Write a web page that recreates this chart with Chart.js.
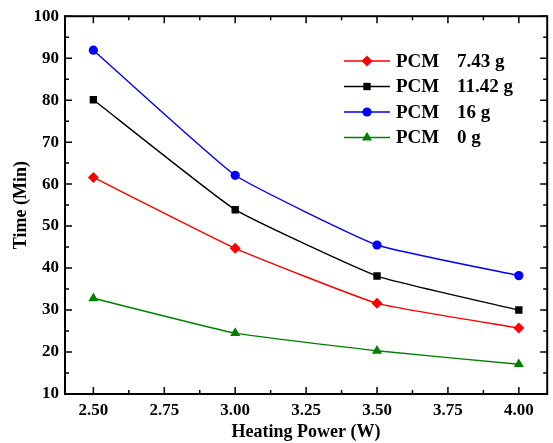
<!DOCTYPE html>
<html>
<head>
<meta charset="utf-8">
<script src="https://cdn.jsdelivr.net/npm/chart.js@4/dist/chart.umd.min.js"></script>
<style>
  html, body { margin: 0; padding: 0; background: #ffffff; }
  #wrap { width: 553px; height: 443px; }
</style>
</head>
<body>
<div id="wrap"><canvas id="c" width="553" height="443"></canvas></div>
<script>
// Heating power (W) on the x axis
const powers = [2.5, 3.0, 3.5, 4.0];
// Time (min) for each PCM mass
const pcm743 = [61.6, 44.7, 31.6, 25.7];
const pcm1142 = [80.1, 53.9, 38.1, 30.0];
const pcm16 = [91.9, 62.1, 45.5, 38.2];
const pcm0 = [32.8, 24.5, 20.3, 17.1];

const seriesNames = ['PCM', 'PCM', 'PCM', 'PCM'];
const seriesMass = ['7.43 g', '11.42 g', '16 g', '0 g'];

const xTickValues = [2.5, 2.75, 3.0, 3.25, 3.5, 3.75, 4.0];
const yTickValues = [10, 20, 30, 40, 50, 60, 70, 80, 90, 100];

const FONT = '"Liberation Serif", "Times New Roman", serif';

function pts(ys) { return ys.map((y, i) => ({ x: powers[i], y: y })); }

const styles = [
  { color: '#ff0000', pointStyle: 'rectRot', radius: 5.5 },
  { color: '#000000', pointStyle: 'rect', radius: 5.2 },
  { color: '#0000ff', pointStyle: 'circle', radius: 4.6 },
  { color: '#008000', pointStyle: 'triangle', radius: 5.8 }
];
const values = [pcm743, pcm1142, pcm16, pcm0];

const datasets = values.map((v, i) => ({
  label: seriesNames[i] + ' ' + seriesMass[i],
  data: pts(v),
  borderColor: styles[i].color,
  backgroundColor: styles[i].color,
  borderWidth: 1.4,
  pointStyle: styles[i].pointStyle,
  pointRadius: styles[i].radius,
  pointBorderWidth: 0,
  tension: 0.12
}));

// Frame with inward major/minor ticks on all four sides
const framePlugin = {
  id: 'frame',
  afterDatasetsDraw(chart) {
    const { ctx, chartArea: a, scales } = chart;
    const xs = scales.x, ys = scales.y;
    ctx.save();
    ctx.strokeStyle = '#000';
    ctx.lineWidth = 1.5;
    ctx.beginPath();
    const major = 7, minor = 4;
    xTickValues.forEach((v, i) => {
      const px = xs.getPixelForValue(v);
      ctx.moveTo(px, a.bottom); ctx.lineTo(px, a.bottom - major);
      ctx.moveTo(px, a.top); ctx.lineTo(px, a.top + major);
      if (i < xTickValues.length - 1) {
        const mx = xs.getPixelForValue((v + xTickValues[i + 1]) / 2);
        ctx.moveTo(mx, a.bottom); ctx.lineTo(mx, a.bottom - minor);
        ctx.moveTo(mx, a.top); ctx.lineTo(mx, a.top + minor);
      }
    });
    yTickValues.forEach((v, i) => {
      const py = ys.getPixelForValue(v);
      ctx.moveTo(a.left, py); ctx.lineTo(a.left + major, py);
      ctx.moveTo(a.right, py); ctx.lineTo(a.right - major, py);
      if (i < yTickValues.length - 1) {
        const my = ys.getPixelForValue((v + yTickValues[i + 1]) / 2);
        ctx.moveTo(a.left, my); ctx.lineTo(a.left + minor, my);
        ctx.moveTo(a.right, my); ctx.lineTo(a.right - minor, my);
      }
    });
    ctx.stroke();
    ctx.lineWidth = 2;
    ctx.strokeRect(a.left, a.top, a.right - a.left, a.bottom - a.top);
    ctx.restore();
  }
};

// Two-column legend inside the plot
const legendPlugin = {
  id: 'pcmLegend',
  afterDraw(chart) {
    const { ctx } = chart;
    ctx.save();
    ctx.font = 'bold 19px ' + FONT;
    ctx.textBaseline = 'middle';
    ctx.fillStyle = '#000';
    chart.data.datasets.forEach((ds, i) => {
      const y = 61 + i * 25.5;
      ctx.strokeStyle = ds.borderColor;
      ctx.lineWidth = 1.4;
      ctx.beginPath();
      ctx.moveTo(344, y); ctx.lineTo(390, y);
      ctx.stroke();
      ctx.fillStyle = ds.backgroundColor;
      Chart.helpers.drawPoint(ctx, {
        pointStyle: ds.pointStyle, radius: ds.pointRadius, rotation: 0, borderWidth: 0
      }, 367, y);
      ctx.fillStyle = '#000';
      ctx.fillText(seriesNames[i], 396, y + 1);
      ctx.fillText(seriesMass[i], 457, y + 1);
    });
    ctx.restore();
  }
};

new Chart(document.getElementById('c'), {
  type: 'line',
  data: { datasets: datasets },
  options: {
    responsive: false,
    animation: false,
    layout: { padding: { top: 15, right: 3, left: 0, bottom: 0 } },
    plugins: { legend: { display: false }, tooltip: { enabled: false } },
    scales: {
      x: {
        type: 'linear',
        min: 2.4, max: 4.1,
        afterBuildTicks(s) { s.ticks = xTickValues.map(v => ({ value: v })); },
        afterFit(s) { s.height = 49; },
        grid: { display: false, drawTicks: false },
        border: { display: false },
        ticks: {
          padding: 6,
          color: '#000',
          font: { family: FONT, size: 17, weight: 'bold' },
          callback: v => Number(v).toFixed(2)
        },
        title: {
          display: true, text: 'Heating Power (W)', color: '#000',
          font: { family: FONT, size: 18, weight: 'bold' },
          padding: { top: 0, bottom: 0 }
        }
      },
      y: {
        type: 'linear',
        min: 10, max: 100,
        afterBuildTicks(s) { s.ticks = yTickValues.map(v => ({ value: v })); },
        afterFit(s) { s.width = 65; },
        grid: { display: false, drawTicks: false },
        border: { display: false },
        ticks: {
          padding: 6,
          color: '#000',
          font: { family: FONT, size: 17, weight: 'bold' }
        },
        title: {
          display: true, text: 'Time (Min)', color: '#000',
          font: { family: FONT, size: 18, weight: 'bold' },
          padding: { top: 11, bottom: 0 }
        }
      }
    }
  },
  plugins: [framePlugin, legendPlugin]
});
</script>
</body>
</html>
